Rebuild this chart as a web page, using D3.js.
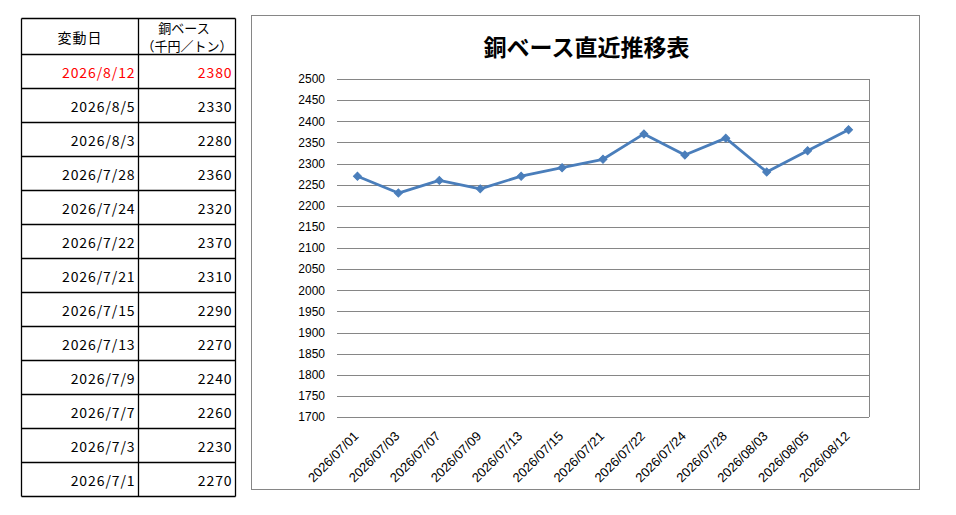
<!DOCTYPE html>
<html>
<head>
<meta charset="utf-8">
<script src="https://cdn.jsdelivr.net/npm/d3@7"></script>
<style>
  body { margin: 0; background: #fff; }
  svg { display: block; }
</style>
</head>
<body>
<svg id="page" width="956" height="515"></svg>
<script>
// ── Data ─────────────────────────────────────────────────────
// table rows, newest first (as in the sheet)
const tableDates  = ['2026/8/12', '2026/8/5', '2026/8/3', '2026/7/28', '2026/7/24', '2026/7/22',
                     '2026/7/21', '2026/7/15', '2026/7/13', '2026/7/9', '2026/7/7', '2026/7/3', '2026/7/1'];
const tablePrices = [2380, 2330, 2280, 2360, 2320, 2370, 2310, 2290, 2270, 2240, 2260, 2230, 2270];

// chart categories, oldest first
const chartDates  = ['2026/07/01', '2026/07/03', '2026/07/07', '2026/07/09', '2026/07/13', '2026/07/15',
                     '2026/07/21', '2026/07/22', '2026/07/24', '2026/07/28', '2026/08/03', '2026/08/05', '2026/08/12'];
const chartPrices = [2270, 2230, 2260, 2240, 2270, 2290, 2310, 2370, 2320, 2360, 2280, 2330, 2380];

const yTicks = d3.range(1700, 2501, 50);

const svg = d3.select('#page');
const JP_FONT = '"Noto Sans CJK JP", "DejaVu Sans", sans-serif';
const NUM_FONT = '"Liberation Sans", Arial, sans-serif';

// ── Table ────────────────────────────────────────────────────
const tbl = { left: 21.5, mid: 138.5, right: 235.5, top: 18.5, headH: 36, rowH: 34 };
const tg = svg.append('g');
const tblBottom = tbl.top + tbl.headH + tbl.rowH * tableDates.length;

const hLines = [tbl.top, ...d3.range(tableDates.length + 1).map(i => tbl.top + tbl.headH + i * tbl.rowH)];
tg.selectAll('line.h').data(hLines).join('line')
  .attr('x1', tbl.left).attr('x2', tbl.right)
  .attr('y1', d => d).attr('y2', d => d)
  .attr('stroke', '#000').attr('stroke-width', 1.3);
tg.selectAll('line.v').data([tbl.left, tbl.mid, tbl.right]).join('line')
  .attr('x1', d => d).attr('x2', d => d)
  .attr('y1', tbl.top).attr('y2', tblBottom)
  .attr('stroke', '#000').attr('stroke-width', 1.3);

// header
tg.append('text')
  .attr('x', (tbl.left + tbl.mid) / 2).attr('y', tbl.top + 24)
  .attr('text-anchor', 'middle')
  .attr('font-family', JP_FONT).attr('font-size', 14)
  .attr('letter-spacing', 1)
  .text('変動日');
tg.append('text')
  .attr('x', (tbl.mid + tbl.right) / 2 - 3).attr('y', tbl.top + 14)
  .attr('text-anchor', 'middle')
  .attr('font-family', JP_FONT).attr('font-size', 13)
  .text('銅ベース');
tg.append('text')
  .attr('x', (tbl.mid + tbl.right) / 2).attr('y', tbl.top + 32)
  .attr('text-anchor', 'middle')
  .attr('font-family', JP_FONT).attr('font-size', 13)
  .text('（千円／トン）');

// body rows
tableDates.forEach((d, i) => {
  const y = tbl.top + tbl.headH + i * tbl.rowH + 23;
  const color = i === 0 ? '#ff0000' : '#000';
  tg.append('text')
    .attr('x', tbl.mid - 3).attr('y', y)
    .attr('text-anchor', 'end')
    .attr('font-family', JP_FONT).attr('font-size', 14)
    .attr('letter-spacing', 0.9)
    .attr('fill', color)
    .text(d);
  tg.append('text')
    .attr('x', tbl.right - 3).attr('y', y)
    .attr('text-anchor', 'end')
    .attr('font-family', JP_FONT).attr('font-size', 14)
    .attr('letter-spacing', 0.9)
    .attr('fill', color)
    .text(tablePrices[i]);
});

// ── Chart ────────────────────────────────────────────────────
const chart = { left: 251.5, top: 15.5, right: 919.5, bottom: 489.5 };
svg.append('rect')
  .attr('x', chart.left).attr('y', chart.top)
  .attr('width', chart.right - chart.left).attr('height', chart.bottom - chart.top)
  .attr('fill', '#fff').attr('stroke', '#868686').attr('stroke-width', 1);

svg.append('text')
  .attr('x', (chart.left + chart.right) / 2 + 1).attr('y', 56)
  .attr('text-anchor', 'middle')
  .attr('font-family', JP_FONT).attr('font-size', 23).attr('font-weight', 'bold')
  .text('銅ベース直近推移表');

const plot = { left: 337, right: 869, top: 79, bottom: 417 };

const xScale = d3.scaleBand()
  .domain(chartDates)
  .range([plot.left, plot.right]);

const yScale = d3.scaleLinear()
  .domain([1700, 2500])
  .range([plot.bottom, plot.top]);

const g = svg.append('g');

// grid
g.append('g')
  .attr('transform', `translate(${plot.left},0)`)
  .call(d3.axisLeft(yScale).tickValues(yTicks).tickSize(-(plot.right - plot.left)).tickFormat(''))
  .call(ax => ax.select('.domain').remove())
  .call(ax => ax.selectAll('line').attr('stroke', '#868686').attr('stroke-width', 1).attr('shape-rendering', 'crispEdges'));

// right plot border
g.append('line')
  .attr('x1', plot.right + 0.5).attr('x2', plot.right + 0.5)
  .attr('y1', plot.top).attr('y2', plot.bottom)
  .attr('stroke', '#868686').attr('stroke-width', 1);

// y labels
g.append('g')
  .attr('transform', `translate(${plot.left},0)`)
  .call(d3.axisLeft(yScale).tickValues(yTicks).tickSize(0).tickPadding(12).tickFormat(d3.format('d')))
  .call(ax => ax.select('.domain').remove())
  .call(ax => ax.selectAll('text')
    .attr('font-family', NUM_FONT).attr('font-size', 12).attr('fill', '#000'));

// x labels
g.append('g')
  .attr('transform', `translate(0,${plot.bottom})`)
  .call(d3.axisBottom(xScale).tickSize(0).tickPadding(0))
  .call(ax => ax.select('.domain').remove())
  .call(ax => ax.selectAll('text')
    .attr('font-family', NUM_FONT).attr('font-size', 13).attr('fill', '#000')
    .attr('text-anchor', 'end')
    .attr('dy', 0)
    .attr('transform', 'translate(2,20) rotate(-45)'));

// line
const lineGen = d3.line()
  .x((d, i) => xScale(chartDates[i]) + xScale.bandwidth() / 2)
  .y(d => yScale(d));

g.append('path')
  .datum(chartPrices)
  .attr('fill', 'none')
  .attr('stroke', '#4a7ebb')
  .attr('stroke-width', 2.8)
  .attr('stroke-linejoin', 'round')
  .attr('d', lineGen);

// diamond markers (rotated squares)
const marker = d3.symbol().type(d3.symbolSquare).size(32);
g.selectAll('path.marker').data(chartPrices).join('path')
  .attr('class', 'marker')
  .attr('transform', (d, i) => `translate(${xScale(chartDates[i]) + xScale.bandwidth() / 2},${yScale(d)}) rotate(45)`)
  .attr('d', marker)
  .attr('fill', '#4a7ebb')
  .attr('stroke', '#4a7ebb')
  .attr('stroke-width', 1);
</script>
</body>
</html>
